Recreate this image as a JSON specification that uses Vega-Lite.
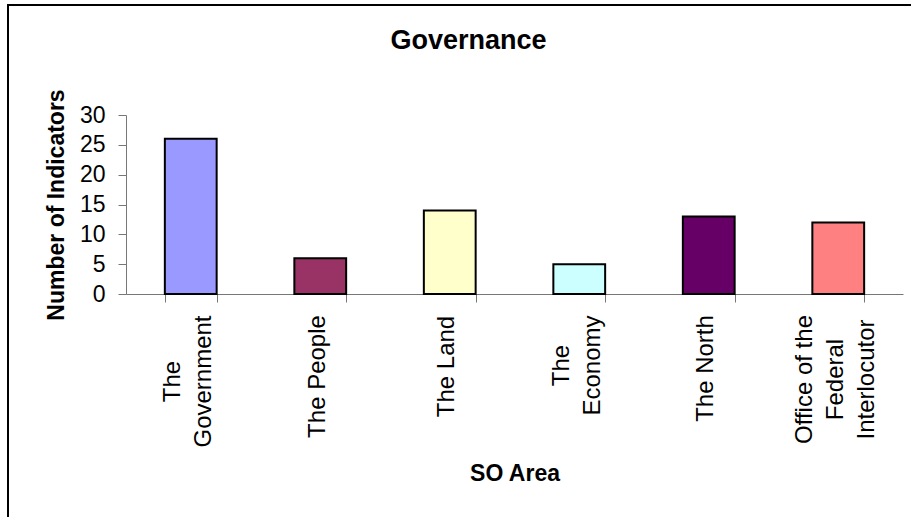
{
  "$schema": "https://vega.github.io/schema/vega-lite/v6.json",
  "autosize": "none",
  "padding": {"left": 8, "top": 5, "right": 0, "bottom": 0},
  "width": 903,
  "height": 512,
  "background": "white",
  "title": {
    "text": "Governance",
    "font": "Liberation Sans",
    "fontSize": 27,
    "fontWeight": "bold",
    "color": "#000",
    "anchor": "middle",
    "baseline": "alphabetic",
    "offset": -71,
    "dx": 9
  },
  "data": {
    "values": [
      {"area": "The Government", "indicators": 26},
      {"area": "The People", "indicators": 6},
      {"area": "The Land", "indicators": 14},
      {"area": "The Economy", "indicators": 5},
      {"area": "The North", "indicators": 13},
      {"area": "Office of the Federal Interlocutor", "indicators": 12}
    ]
  },
  "mark": {"type": "bar", "stroke": "#000", "strokeWidth": 2},
  "encoding": {
    "x": {
      "field": "area",
      "type": "nominal",
      "sort": null,
      "scale": {"range": [118, 895], "paddingInner": 0.6, "paddingOuter": 0.3},
      "axis": {
        "title": "SO Area",
        "offset": -223,
        "tickBand": "extent",
        "tickSize": 8,
        "labelAngle": -90,
        "labelAlign": "center",
        "labelBaseline": "middle",
        "labelLineHeight": 31,
        "labelOverlap": false,
        "labelBound": false,
        "labelFlush": false,
        "labelLimit": 0,
        "labelExpr": "datum.value == 'The Government' ? ['The', 'Government'] : datum.value == 'The Economy' ? ['The', 'Economy'] : datum.value == 'Office of the Federal Interlocutor' ? ['Office of the', 'Federal', 'Interlocutor'] : datum.value",
        "labelPadding": {
          "condition": [
            {"test": "datum.value == 'The Government'", "value": 79},
            {"test": "datum.value == 'The People'", "value": 74},
            {"test": "datum.value == 'The Land'", "value": 64},
            {"test": "datum.value == 'The Economy'", "value": 63},
            {"test": "datum.value == 'The North'", "value": 66}
          ],
          "value": 77
        },
        "labelOffset": {
          "condition": [
            {"test": "datum.value == 'The Government'", "value": -18},
            {"test": "datum.value == 'The Economy'", "value": -18},
            {"test": "datum.value == 'Office of the Federal Interlocutor'", "value": -34}
          ],
          "value": -3
        },
        "labelFontSize": 24,
        "titleY": 186,
        "titleBaseline": "alphabetic"
      }
    },
    "y": {
      "field": "indicators",
      "type": "quantitative",
      "scale": {"domain": [0, 30], "range": [289, 110], "nice": false},
      "axis": {
        "title": "Number of Indicators",
        "offset": -118,
        "values": [0, 5, 10, 15, 20, 25, 30],
        "tickSize": 8,
        "labelPadding": 13,
        "labelFontSize": 23,
        "grid": false,
        "titleX": -63,
        "titleBaseline": "alphabetic"
      }
    },
    "color": {
      "field": "area",
      "type": "nominal",
      "sort": null,
      "scale": {
        "domain": ["The Government", "The People", "The Land", "The Economy", "The North", "Office of the Federal Interlocutor"],
        "range": ["#9999FF", "#993366", "#FFFFCC", "#CCFFFF", "#660066", "#FF8080"]
      },
      "legend": null
    }
  },
  "config": {
    "view": {"stroke": "#000", "strokeWidth": 2, "strokeDash": [903, 1415, 512]},
    "axis": {
      "domainColor": "#777",
      "tickColor": "#777",
      "domainWidth": 1,
      "tickWidth": 1,
      "grid": false,
      "labelFont": "Liberation Sans",
      "labelColor": "#000",
      "titleFont": "Liberation Sans",
      "titleFontWeight": "bold",
      "titleFontSize": 23,
      "titleColor": "#000"
    }
  }
}
